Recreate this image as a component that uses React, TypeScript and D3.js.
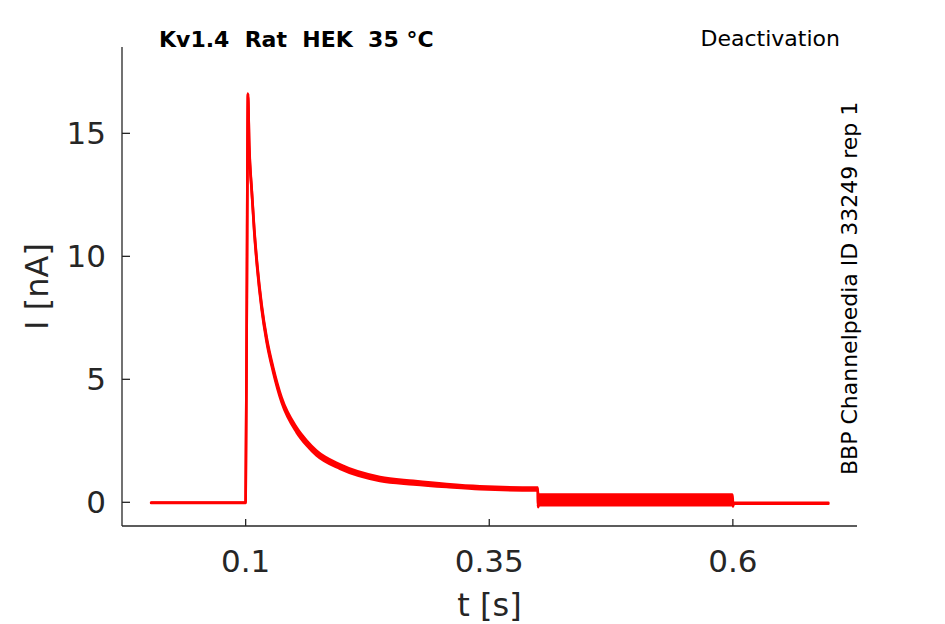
import { useMemo } from "react";
import * as d3 from "d3";

const traceT = [
  0.003, 0.0998, 0.1, 0.1012, 0.10236, 0.1037, 0.1062, 0.1088, 0.1119, 0.1164,
  0.1216, 0.1283, 0.1369, 0.1523, 0.1626, 0.1728, 0.1968, 0.2378, 0.272, 0.3063,
  0.3404, 0.3987, 0.3999, 0.4001, 0.4006, 0.5995, 0.5999, 0.6001, 0.6006, 0.698,
];
const traceI = [
  -0.02, -0.02, 0.05, 8.2, 16.6, 14.46, 12.69, 11.07, 9.58, 7.95,
  6.6, 5.38, 4.16, 2.94, 2.41, 2.0, 1.45, 0.95, 0.8, 0.68,
  0.59, 0.54, 0.54, -0.18, 0.1, 0.1, 0.1, -0.15, -0.04, -0.04,
];
const traceSpread = [
  0.01, 0.01, 0.01, 0.02, 0.02, 0.05, 0.06, 0.08, 0.09, 0.1,
  0.1, 0.1, 0.1, 0.1, 0.1, 0.1, 0.09, 0.08, 0.07, 0.06,
  0.06, 0.06, 0.06, 0.02, 0.22, 0.22, 0.02, 0.02, 0.02, 0.02,
];

const xTicks = [0.1, 0.35, 0.6];
const yTicks = [0, 5, 10, 15];

const title = "Kv1.4  Rat  HEK  35 °C";
const protocol = "Deactivation";
const sideNote = "BBP Channelpedia ID 33249 rep 1";

const width = 945;
const height = 624;
const font = "'DejaVu Sans', sans-serif";
const axisColor = "#262626";

export default function App() {
  const left = 122;
  const right = 857;
  const top = 47;
  const bottom = 526;

  const x = d3.scaleLinear().domain([-0.0269, 0.7274]).range([left, right]);
  const y = d3.scaleLinear().domain([-0.963, 18.51]).range([bottom, top]);

  const pts = useMemo(
    () => traceT.map((t, i) => ({ t, v: traceI[i], s: traceSpread[i] })),
    []
  );

  const line = d3
    .line<{ t: number; v: number; s: number }>()
    .curve(d3.curveMonotoneX)
    .x((d) => x(d.t))
    .y((d) => y(d.v));
  const band = d3
    .area<{ t: number; v: number; s: number }>()
    .curve(d3.curveMonotoneX)
    .x((d) => x(d.t))
    .y0((d) => y(d.v - d.s))
    .y1((d) => y(d.v + d.s));

  return (
    <div>
      <style>{"body{margin:0}"}</style>
      <svg width={width} height={height} style={{ display: "block", background: "#fff" }}>
        {/* trace */}
        <path d={band(pts) ?? ""} fill="#ff0000" stroke="#ff0000" strokeWidth={2.6} strokeLinejoin="round" />
        <path d={line(pts) ?? ""} fill="none" stroke="#ff0000" strokeWidth={2.6} strokeLinejoin="round" />

        {/* axes */}
        <line x1={left} x2={left} y1={top} y2={bottom} stroke={axisColor} strokeWidth={1.3} />
        <line x1={left} x2={right} y1={bottom} y2={bottom} stroke={axisColor} strokeWidth={1.3} />

        {yTicks.map((v) => (
          <g key={"y" + v}>
            <line x1={left} x2={left + 8} y1={y(v)} y2={y(v)} stroke={axisColor} strokeWidth={1.3} />
            <text
              x={left - 16}
              y={y(v)}
              dy="0.36em"
              textAnchor="end"
              fontFamily={font}
              fontSize={31}
              fill={axisColor}
            >
              {v}
            </text>
          </g>
        ))}

        {xTicks.map((v) => (
          <g key={"x" + v}>
            <line x1={x(v)} x2={x(v)} y1={bottom} y2={bottom - 7} stroke={axisColor} strokeWidth={1.3} />
            <text
              x={x(v)}
              y={572}
              textAnchor="middle"
              fontFamily={font}
              fontSize={31}
              fill={axisColor}
            >
              {v}
            </text>
          </g>
        ))}

        {/* axis labels */}
        <text x={(left + right) / 2} y={616} textAnchor="middle" fontFamily={font} fontSize={32} fill={axisColor}>
          t [s]
        </text>
        <text
          transform={`translate(48,${(top + bottom) / 2}) rotate(-90)`}
          textAnchor="middle"
          fontFamily={font}
          fontSize={32}
          fill={axisColor}
        >
          I [nA]
        </text>

        {/* annotations */}
        <text x={159} y={47} fontFamily={font} fontSize={22} fontWeight="bold" fill="#000" style={{ whiteSpace: "pre" }}>
          {title}
        </text>
        <text x={840} y={46} textAnchor="end" fontFamily={font} fontSize={22} fill="#000">
          {protocol}
        </text>
        <text
          transform="translate(857,475) rotate(-90)"
          fontFamily={font}
          fontSize={22}
          fill="#000"
        >
          {sideNote}
        </text>
      </svg>
    </div>
  );
}
